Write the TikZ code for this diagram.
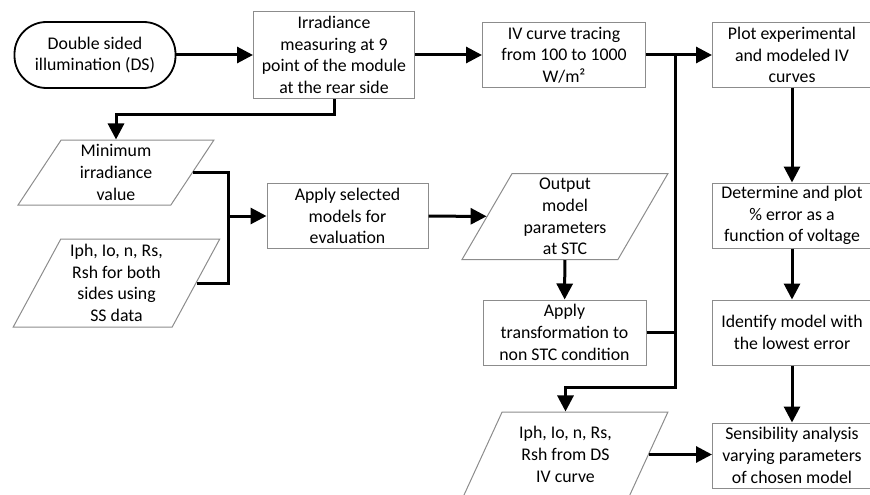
\documentclass[tikz,border=0pt]{standalone}
\usepackage{fontspec}
\setmainfont{Carlito}
\usetikzlibrary{arrows.meta,positioning,shapes.geometric}

\begin{document}
\begin{tikzpicture}[
  x=1pt, y=-1pt,
  every node/.style={font=\fontsize{17.8}{21.7}\selectfont, align=center, inner sep=0pt},
  proc/.style={draw=black!45, line width=1pt, minimum width=#1, minimum height=65pt},
  proc/.default=161pt,
  term/.style={draw, line width=1.8pt, rounded corners=32pt, minimum width=161pt, minimum height=66pt},
  io/.style={draw=black!45, line width=1pt, trapezium, trapezium left angle=63, trapezium right angle=117,
    trapezium stretches=true, minimum width=#1, minimum height=86pt},
  io/.default=206pt,
  flow/.style={line width=3pt, -{Triangle[length=16pt,width=16pt]}},
  link/.style={line width=3pt}
]
\useasboundingbox (0,0) rectangle (870,495);

% Top row
\node[term] (ds) at (95,55) {Double sided\\illumination (DS)};
\node[proc, minimum height=87pt] (irr) at (334,55) {Irradiance\\measuring at 9\\point of the module\\at the rear side};
\node[proc=163pt, minimum height=64pt] (iv) at (564,55) {IV curve tracing\\from 100 to 1000\\W/m²};
\node[proc=159pt, minimum height=64pt] (plot) at (792,55) {Plot experimental\\and modeled IV\\curves};

% Left inputs
\node[io=196pt, minimum height=65pt] (minv) at (116,172.5) {Minimum\\irradiance\\value};
\node[io=207pt, minimum height=88pt] (ssv) at (116.5,283) {Iph, Io, n, Rs,\\Rsh for both\\sides using\\SS data};

% Middle
\node[proc] (apply) at (347.5,216) {Apply selected\\models for\\evaluation};
\node[io] (outp) at (565,216.5) {Output\\model\\parameters\\at STC};
\node[proc=163pt] (trans) at (564.5,332.5) {Apply\\transformation to\\non STC condition};
\node[io=205pt, minimum height=85pt] (dsv) at (565.5,454.5) {Iph, Io, n, Rs,\\Rsh from DS\\IV curve};

% Right column
\node[proc=159pt] (det) at (792,215.5) {Determine and plot\\\% error as a\\function of voltage};
\node[proc=159pt] (ident) at (792,332.5) {Identify model with\\the lowest error};
\node[proc=159pt] (sens) at (792,455.5) {Sensibility analysis\\varying parameters\\of chosen model};

% Junctions
\coordinate (j1) at (675,55);
\coordinate (j2) at (675,387);
\coordinate (jb) at (228,216);

% Arrows
\draw[flow] (ds) -- (irr);
\draw[flow] (irr) -- (iv);
\draw[flow] (iv) -- (plot);
\draw[flow] (irr.south) -- ++(0,15) -| (minv.north);
\draw[link] (minv.east) -| (jb);
\draw[link] (ssv.east) -| (jb);
\draw[flow] (jb) -- (apply.west);
\draw[flow] (apply) -- (outp);
\draw[flow] (outp) -- (trans);
\draw[link] (trans.east) -| (j1);
\draw[flow] (j1) -- (j2) -| (dsv.north);
\draw[flow] (dsv.east) -- (sens.west |- dsv.east);
\draw[flow] (plot) -- (det);
\draw[flow] (det) -- (ident);
\draw[flow] (ident) -- (sens);

\end{tikzpicture}
\end{document}
